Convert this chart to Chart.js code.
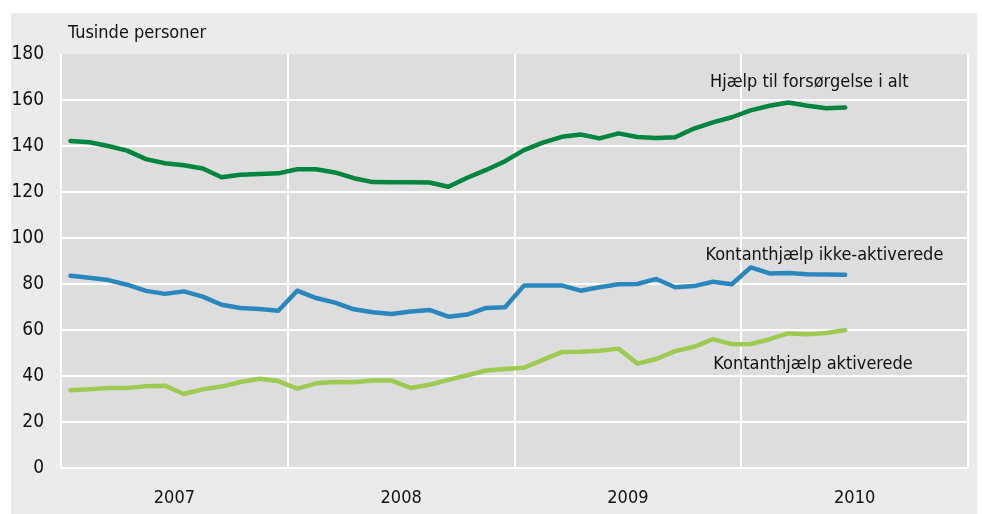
<!DOCTYPE html>
<html>
<head>
<meta charset="utf-8">
<script src="https://cdn.jsdelivr.net/npm/chart.js@4.4.1/dist/chart.umd.min.js"></script>
<style>
  html, body { margin: 0; padding: 0; background: #ffffff; }
  #wrap { width: 982px; height: 514px; position: relative; }
</style>
</head>
<body>
<div id="wrap"><canvas id="c" width="982" height="514"></canvas></div>
<script>
// ---- Data (monthly, Jan 2007 – Jun 2010), thousands of persons ----
const years = ["2007", "2008", "2009", "2010"];
const months = [];
for (const y of ["2007", "2008", "2009", "2010"]) {
  for (let m = 1; m <= 12; m++) months.push(y + "M" + String(m).padStart(2, "0"));
}
const categories = months.slice(0, 42);

const seriesNames = [
  "Hjælp til forsørgelse i alt",
  "Kontanthjælp ikke-aktiverede",
  "Kontanthjælp aktiverede"
];

const hjaelpIAlt = [
  142.2, 141.6, 140.0, 138.0, 134.3, 132.5, 131.6, 130.2, 126.4, 127.5, 127.8, 128.1,
  129.9, 129.9, 128.5, 126.0, 124.3, 124.2, 124.2, 124.1, 122.3, 126.2, 129.6, 133.4,
  138.2, 141.5, 144.0, 145.0, 143.3, 145.5, 143.9, 143.5, 143.8, 147.6, 150.3, 152.5,
  155.5, 157.5, 158.9, 157.5, 156.4, 156.7
];

const ikkeAktiverede = [
  83.6, 82.7, 81.7, 79.7, 77.0, 75.7, 76.8, 74.5, 71.0, 69.6, 69.1, 68.4,
  77.1, 73.9, 71.9, 69.0, 67.7, 67.0, 68.0, 68.7, 65.8, 66.7, 69.6, 69.9,
  79.3, 79.4, 79.4, 77.1, 78.6, 79.9, 80.0, 82.2, 78.6, 79.1, 81.0, 79.9,
  87.2, 84.6, 84.8, 84.2, 84.1, 84.0
];

const aktiverede = [
  33.8, 34.2, 34.8, 34.8, 35.5, 35.8, 32.2, 34.2, 35.4, 37.4, 38.8, 37.8,
  34.5, 36.8, 37.4, 37.3, 38.0, 38.0, 34.8, 36.2, 38.3, 40.3, 42.4, 43.0,
  43.6, 47.0, 50.4, 50.5, 51.0, 51.9, 45.4, 47.4, 50.8, 52.7, 56.0, 53.8,
  53.9, 56.0, 58.5, 58.1, 58.7, 60.0
];

const yTicks = [0, 20, 40, 60, 80, 100, 120, 140, 160, 180];
const unitLabel = "Tusinde personer";

// ---- Chart ----
const FONT = "'DejaVu Sans Condensed', 'DejaVu Sans', sans-serif";
const toXY = arr => arr.map((v, i) => ({ x: i + 0.5, y: v }));

const bgPlugin = {
  id: "bg",
  beforeDraw(chart) {
    const ctx = chart.ctx, a = chart.chartArea;
    ctx.save();
    ctx.fillStyle = "#ffffff";
    ctx.fillRect(0, 0, chart.width, chart.height);
    ctx.fillStyle = "#ebebeb";
    ctx.fillRect(11, 13, 966, chart.height - 13);
    ctx.fillStyle = "#dddddd";
    ctx.fillRect(a.left, a.top, a.right - a.left, a.bottom - a.top);
    ctx.restore();
  }
};

const labelPlugin = {
  id: "labels",
  afterDatasetsDraw(chart) {
    const ctx = chart.ctx, xs = chart.scales.x, ys = chart.scales.y;
    ctx.save();
    ctx.fillStyle = "#111111";
    ctx.font = "18px " + FONT;
    ctx.textBaseline = "middle";
    ctx.textAlign = "left";
    ctx.fillText(unitLabel, xs.getPixelForValue(0) + 7, ys.getPixelForValue(180) - 21);
    ctx.font = "18px " + FONT;
    ctx.textAlign = "center";
    const pos = [[39.6, 167.8], [40.4, 92.6], [39.8, 45.2]];
    seriesNames.forEach((n, i) => {
      ctx.fillText(n, xs.getPixelForValue(pos[i][0]), ys.getPixelForValue(pos[i][1]));
    });
    ctx.restore();
  }
};

const lineStyle = {
  borderWidth: 4.5,
  pointRadius: 0,
  tension: 0,
  fill: false,
  borderJoinStyle: "round",
  borderCapStyle: "round"
};

new Chart(document.getElementById("c"), {
  type: "line",
  data: {
    datasets: [
      Object.assign({ label: seriesNames[0], data: toXY(hjaelpIAlt), borderColor: "#00853f" }, lineStyle),
      Object.assign({ label: seriesNames[1], data: toXY(ikkeAktiverede), borderColor: "#2a87bd" }, lineStyle),
      Object.assign({ label: seriesNames[2], data: toXY(aktiverede), borderColor: "#9dcb52" }, lineStyle)
    ]
  },
  options: {
    responsive: false,
    animation: false,
    devicePixelRatio: 1,
    layout: { padding: { left: 0, right: 14, top: 54, bottom: 4 } },
    plugins: { legend: { display: false }, tooltip: { enabled: false } },
    scales: {
      x: {
        type: "linear",
        min: 0,
        max: 48,
        afterBuildTicks(scale) {
          const t = [];
          for (let v = 0; v <= 48; v += 6) t.push({ value: v });
          scale.ticks = t;
        },
        afterFit(scale) {
          scale.height = 42;
          scale.paddingLeft = 0;
          scale.paddingRight = 0;
        },
        border: { display: false },
        grid: {
          drawTicks: false,
          lineWidth: 2,
          color: c => (c.tick && c.tick.value % 12 === 0) ? "#ffffff" : "rgba(0,0,0,0)"
        },
        ticks: {
          autoSkip: false,
          maxRotation: 0,
          padding: 20,
          color: "#111111",
          font: { family: FONT, size: 18 },
          callback: v => (v % 12 === 6) ? years[(v - 6) / 12] : ""
        }
      },
      y: {
        min: 0,
        max: 180,
        afterBuildTicks(scale) { scale.ticks = yTicks.map(v => ({ value: v })); },
        afterFit(scale) {
          scale.width = 61;
          scale.paddingTop = 0;
          scale.paddingBottom = 0;
        },
        border: { display: false },
        grid: {
          drawTicks: false,
          lineWidth: 2,
          color: c => (c.tick && c.tick.value === 180) ? "rgba(0,0,0,0)" : "#ffffff"
        },
        ticks: {
          padding: 17,
          color: "#111111",
          font: { family: FONT, size: 19 }
        }
      }
    }
  },
  plugins: [bgPlugin, labelPlugin]
});
</script>
</body>
</html>
